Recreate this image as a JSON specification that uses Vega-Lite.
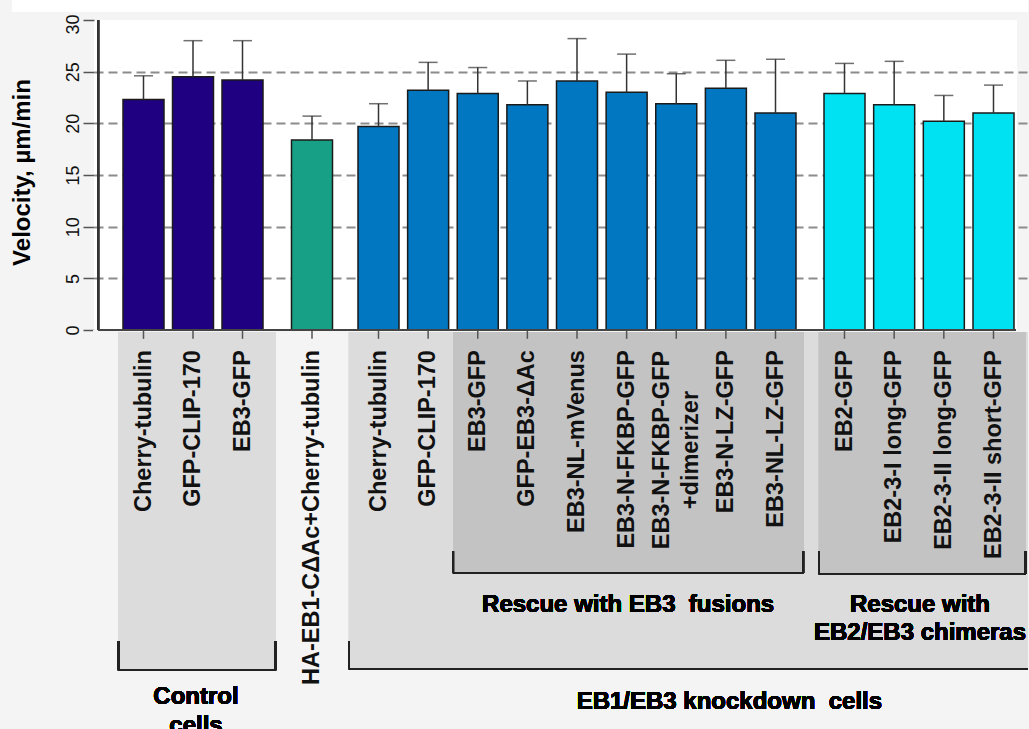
{
  "$schema": "https://vega.github.io/schema/vega-lite/v6.json",
  "width": 923,
  "height": 709,
  "autosize": {"type": "none"},
  "padding": {"left": 94, "top": 20, "right": 12, "bottom": 0},
  "background": "#f4f4f4",
  "view": {"fill": "white", "stroke": null},
  "config": {
    "font": "Liberation Sans",
    "axisY": {
      "labelAngle": 270, "labelAlign": "center", "labelBaseline": "bottom", "labelFontSize": 18, "labelColor": "#111",
      "labelPadding": 1, "labelFont": "Liberation Sans", "tickColor": "#555", "tickSize": 11, "tickWidth": 1.5
    }
  },
  "data": {
    "values": [
      {"bar": 1, "label": "Cherry-tubulin", "set": "control", "v": 22.3, "hi": 24.6},
      {"bar": 2, "label": "GFP-CLIP-170", "set": "control", "v": 24.5, "hi": 28.0},
      {"bar": 3, "label": "EB3-GFP", "set": "control", "v": 24.2, "hi": 28.0},
      {"bar": 4, "label": "HA-EB1-CΔAc+Cherry-tubulin", "set": "ha", "v": 18.4, "hi": 20.7},
      {"bar": 5, "label": "Cherry-tubulin", "set": "kd", "v": 19.7, "hi": 21.9},
      {"bar": 6, "label": "GFP-CLIP-170", "set": "kd", "v": 23.2, "hi": 25.9},
      {"bar": 7, "label": "EB3-GFP", "set": "kd", "v": 22.9, "hi": 25.4},
      {"bar": 8, "label": "GFP-EB3-ΔAc", "set": "kd", "v": 21.8, "hi": 24.1},
      {"bar": 9, "label": "EB3-NL-mVenus", "set": "kd", "v": 24.1, "hi": 28.2},
      {"bar": 10, "label": "EB3-N-FKBP-GFP", "set": "kd", "v": 23.0, "hi": 26.7},
      {"bar": 11, "label": "EB3-N-FKBP-GFP\n+dimerizer", "set": "kd", "v": 21.9, "hi": 24.8},
      {"bar": 12, "label": "EB3-N-LZ-GFP", "set": "kd", "v": 23.4, "hi": 26.1},
      {"bar": 13, "label": "EB3-NL-LZ-GFP", "set": "kd", "v": 21.0, "hi": 26.2},
      {"bar": 14, "label": "EB2-GFP", "set": "chim", "v": 22.9, "hi": 25.8},
      {"bar": 15, "label": "EB2-3-I long-GFP", "set": "chim", "v": 21.8, "hi": 26.0},
      {"bar": 16, "label": "EB2-3-II long-GFP", "set": "chim", "v": 20.2, "hi": 22.7},
      {"bar": 17, "label": "EB2-3-II short-GFP", "set": "chim", "v": 21.0, "hi": 23.7}
    ]
  },
  "layer": [
    {
      "mark": {"type": "bar", "width": 41, "stroke": "#1a1a1a", "strokeWidth": 1.5},
      "encoding": {
        "x": {"field": "bar", "type": "quantitative", "axis": null,
              "scale": {"domain": [0, 1, 3, 4, 5, 13, 14, 17, 19], "range": [0, 49.5, 148.5, 218, 284.5, 681.5, 750.5, 899.5, 998.8], "zero": false, "nice": false}},
        "y": {"field": "v", "type": "quantitative",
              "scale": {"domain": [-38.6, 30], "zero": false, "nice": false},
              "axis": {"values": [0, 5, 10, 15, 20, 25, 30], "title": "Velocity, µm/min", "domain": false,
                       "grid": true, "gridDash": [9, 5], "gridColor": "#8c8c8c", "gridWidth": 2,
                       "gridOpacity": {"condition": {"test": "datum.value === 0 || datum.value === 30", "value": 0}, "value": 1},
                       "labelOffset": {"condition": {"test": "datum.value === 30", "value": 4}, "value": 0},
                       "labelAngle": 270, "labelAlign": "center", "labelBaseline": "bottom", "labelFontSize": 18,
                       "titleFontSize": 24, "titleFontWeight": "bold", "titleColor": "#000", "titleAngle": 270,
                       "titleX": -72, "titleY": 152, "titleAlign": "center", "titleBaseline": "middle"}},
        "y2": {"datum": 0},
        "color": {"field": "set", "type": "nominal", "legend": null,
                  "scale": {"domain": ["control", "ha", "kd", "chim"], "range": ["#1f0080", "#17a086", "#0077c0", "#00e2f2"]}}
      }
    },
    {
      "mark": {"type": "rect", "color": "white"},
      "encoding": {"x": {"datum": -1.9, "type": "quantitative"}, "x2": {"datum": 17.72}, "y": {"datum": 30.77, "type": "quantitative"}, "y2": {"datum": 32}}
    },
    {
      "mark": {"type": "rect", "color": "#f4f4f4"},
      "encoding": {"x": {"datum": -0.1, "type": "quantitative"}, "x2": {"datum": 17.6}, "y": {"datum": 0, "type": "quantitative"}, "y2": {"datum": -38.6}}
    },
    {
      "mark": {"type": "rect", "color": "#dcdcdc"},
      "encoding": {"x": {"datum": 0.444, "type": "quantitative"}, "x2": {"datum": 3.478}, "y": {"datum": -0.19, "type": "quantitative"}, "y2": {"datum": -32.9}}
    },
    {
      "mark": {"type": "rect", "color": "#dcdcdc"},
      "encoding": {"x": {"datum": 4.556, "type": "quantitative"}, "x2": {"datum": 17.72}, "y": {"datum": -0.19, "type": "quantitative"}, "y2": {"datum": -32.8}}
    },
    {
      "mark": {"type": "rect", "color": "#c3c3c3"},
      "encoding": {"x": {"datum": 6.502, "type": "quantitative"}, "x2": {"datum": 13.40}, "y": {"datum": -0.19, "type": "quantitative"}, "y2": {"datum": -23.51}}
    },
    {
      "mark": {"type": "rect", "color": "#c3c3c3"},
      "encoding": {"x": {"datum": 13.63, "type": "quantitative"}, "x2": {"datum": 17.67}, "y": {"datum": -0.19, "type": "quantitative"}, "y2": {"datum": -23.61}}
    },
    {
      "mark": {"type": "rule", "color": "#222", "strokeWidth": 2},
      "encoding": {"x": {"datum": 0.444, "type": "quantitative"}, "x2": {"datum": 3.478}, "y": {"datum": -32.9, "type": "quantitative"}}
    },
    {
      "mark": {"type": "rule", "color": "#222", "strokeWidth": 2},
      "encoding": {"x": {"datum": 0.444, "type": "quantitative"}, "y": {"datum": -30.1, "type": "quantitative"}, "y2": {"datum": -32.9}}
    },
    {
      "mark": {"type": "rule", "color": "#222", "strokeWidth": 2},
      "encoding": {"x": {"datum": 3.478, "type": "quantitative"}, "y": {"datum": -30.1, "type": "quantitative"}, "y2": {"datum": -32.9}}
    },
    {
      "mark": {"type": "rule", "color": "#222", "strokeWidth": 2},
      "encoding": {"x": {"datum": 4.556, "type": "quantitative"}, "x2": {"datum": 17.72}, "y": {"datum": -32.8, "type": "quantitative"}}
    },
    {
      "mark": {"type": "rule", "color": "#222", "strokeWidth": 2},
      "encoding": {"x": {"datum": 4.556, "type": "quantitative"}, "y": {"datum": -30.1, "type": "quantitative"}, "y2": {"datum": -32.8}}
    },
    {
      "mark": {"type": "rule", "color": "#222", "strokeWidth": 2},
      "encoding": {"x": {"datum": 6.502, "type": "quantitative"}, "x2": {"datum": 13.40}, "y": {"datum": -23.51, "type": "quantitative"}}
    },
    {
      "mark": {"type": "rule", "color": "#222", "strokeWidth": 2},
      "encoding": {"x": {"datum": 6.502, "type": "quantitative"}, "y": {"datum": -21.39, "type": "quantitative"}, "y2": {"datum": -23.51}}
    },
    {
      "mark": {"type": "rule", "color": "#222", "strokeWidth": 2},
      "encoding": {"x": {"datum": 13.40, "type": "quantitative"}, "y": {"datum": -21.39, "type": "quantitative"}, "y2": {"datum": -23.51}}
    },
    {
      "mark": {"type": "rule", "color": "#222", "strokeWidth": 2},
      "encoding": {"x": {"datum": 13.63, "type": "quantitative"}, "x2": {"datum": 17.67}, "y": {"datum": -23.61, "type": "quantitative"}}
    },
    {
      "mark": {"type": "rule", "color": "#222", "strokeWidth": 2},
      "encoding": {"x": {"datum": 13.63, "type": "quantitative"}, "y": {"datum": -21.39, "type": "quantitative"}, "y2": {"datum": -23.61}}
    },
    {
      "mark": {"type": "rule", "color": "#222", "strokeWidth": 2},
      "encoding": {"x": {"datum": 17.67, "type": "quantitative"}, "y": {"datum": -21.39, "type": "quantitative"}, "y2": {"datum": -23.61}}
    },
    {
      "mark": {"type": "text", "text": ["Control", "cells"], "fontSize": 24, "fontWeight": "bold", "color": "#000", "align": "center", "baseline": "middle", "lineHeight": 29},
      "encoding": {"x": {"datum": 2.06, "type": "quantitative"}, "y": {"datum": -35.51, "type": "quantitative"}}
    },
    {
      "mark": {"type": "text", "text": "EB1/EB3 knockdown\u00a0 cells", "fontSize": 24, "fontWeight": "bold", "color": "#000", "align": "center", "baseline": "middle"},
      "encoding": {"x": {"datum": 12.07, "type": "quantitative"}, "y": {"datum": -35.99, "type": "quantitative"}}
    },
    {
      "mark": {"type": "text", "text": "Rescue with EB3\u00a0 fusions", "fontSize": 24, "fontWeight": "bold", "color": "#000", "align": "center", "baseline": "middle"},
      "encoding": {"x": {"datum": 10.03, "type": "quantitative"}, "y": {"datum": -26.61, "type": "quantitative"}}
    },
    {
      "mark": {"type": "text", "text": ["Rescue with", "EB2/EB3 chimeras"], "fontSize": 24, "fontWeight": "bold", "color": "#000", "align": "center", "baseline": "middle", "lineHeight": 28},
      "encoding": {"x": {"datum": 15.52, "type": "quantitative"}, "y": {"datum": -26.61, "type": "quantitative"}}
    },
    {
      "mark": {"type": "rule", "color": "#333", "strokeWidth": 1.5},
      "encoding": {"x": {"field": "bar", "type": "quantitative"}, "y": {"field": "v", "type": "quantitative"}, "y2": {"field": "hi"}}
    },
    {
      "mark": {"type": "tick", "orient": "horizontal", "size": 19, "thickness": 1.5, "color": "#333"},
      "encoding": {"x": {"field": "bar", "type": "quantitative"}, "y": {"field": "hi", "type": "quantitative"}}
    },
    {
      "mark": {"type": "rule", "color": "#555", "strokeWidth": 1.5},
      "encoding": {"x": {"field": "bar", "type": "quantitative"}, "y": {"datum": 0, "type": "quantitative"}, "y2": {"datum": -0.85}}
    },
    {
      "mark": {"type": "rule", "color": "#333", "strokeWidth": 1.5},
      "encoding": {"x": {"datum": 0, "type": "quantitative"}, "y": {"datum": 0, "type": "quantitative"}, "y2": {"datum": 30}}
    },
    {
      "mark": {"type": "rule", "color": "#444", "strokeWidth": 2},
      "encoding": {"x": {"datum": 0, "type": "quantitative"}, "x2": {"datum": 17.473}, "y": {"datum": 0, "type": "quantitative"}}
    },
    {
      "transform": [{"filter": "datum.bar !== 11"}],
      "mark": {"type": "text", "angle": 270, "align": "right", "baseline": "middle", "fontSize": 23.5, "fontWeight": "bold", "color": "#111"},
      "encoding": {"x": {"field": "bar", "type": "quantitative"}, "y": {"datum": -1.94, "type": "quantitative"}, "text": {"field": "label"}}
    },
    {
      "transform": [{"filter": "datum.bar === 11"}],
      "mark": {"type": "text", "angle": 270, "align": "center", "baseline": "middle", "fontSize": 23.5, "fontWeight": "bold", "color": "#111", "lineBreak": "\n", "lineHeight": 29, "dy": -14.5},
      "encoding": {"x": {"field": "bar", "type": "quantitative"}, "y": {"datum": -11.61, "type": "quantitative"}, "text": {"field": "label"}}
    }
  ]
}
